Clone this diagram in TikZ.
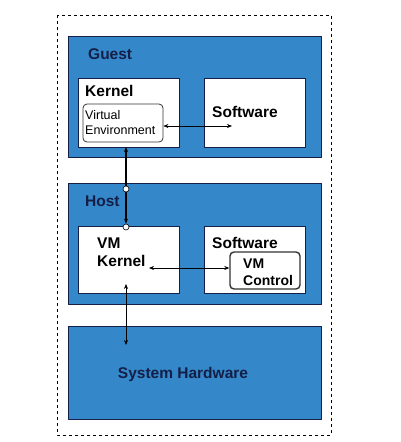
\documentclass[tikz,border=0pt]{standalone}
\usepackage{fontspec}
\setmainfont{Liberation Sans}
\usetikzlibrary{arrows.meta}
\definecolor{layerblue}{RGB}{52,136,202}
\definecolor{navy}{RGB}{20,30,70}
\begin{document}
\begin{tikzpicture}[x=1pt, y=-1pt, line join=round, >={Stealth[length=5pt,width=4pt]},
	layer/.style={draw=navy, fill=layerblue, line width=0.8pt, minimum width=253pt},
	whitebox/.style={draw=navy, fill=white, line width=0.6pt, minimum width=101pt},
	inner/.style={draw=black!80, fill=white, line width=0.8pt, rounded corners=4pt},
	title/.style={font=\fontsize{15.5}{17}\selectfont\bfseries, text=navy, inner sep=0pt},
	label/.style={font=\fontsize{15.5}{18}\selectfont\bfseries, inner sep=0pt, align=left},
	joint/.style={circle, draw=black, fill=white, line width=0.6pt, inner sep=0pt, minimum size=6pt}]
	\useasboundingbox (0,0) rectangle (400,442);
	\draw[dashed, line width=0.6pt] (57,15) rectangle (331,435);
	% guest layer
	\node[layer, minimum height=121pt] (guest) at (194.5,96.5) {};
	\node[title, anchor=west] (guestlbl) at (88,54) {Guest};
	\node[whitebox, minimum height=69pt] (gkernel) at (128.5,112.5) {};
	\node[whitebox, minimum height=69pt] (gsoft) at (254.5,112.5) {};
	\node[label, anchor=west] (gkernellbl) at (85,91) {Kernel};
	\node[label, anchor=west] (gsoftlbl) at (212,112) {Software};
	\node[inner, minimum width=80pt, minimum height=38pt] (venv) at (123,123) {};
	\node[font=\fontsize{12.5}{15}\selectfont, align=left, inner sep=0pt, anchor=west] (venvlbl) at (85,123) {Virtual\\Environment};
	% host layer
	\node[layer, minimum height=121pt] (host) at (194.5,243.5) {};
	\node[title, anchor=west] (hostlbl) at (85,201) {Host};
	\node[whitebox, minimum height=67pt] (vmkernel) at (128.5,259.5) {};
	\node[whitebox, minimum height=67pt] (hsoft) at (254.5,259.5) {};
	\node[label, anchor=west] (vmkernellbl) at (97,252.5) {VM\\Kernel};
	\node[label, anchor=west] (hsoftlbl) at (212,243) {Software};
	\node[inner, line width=1.4pt, minimum width=70pt, minimum height=37pt] (vmctrl) at (265,270.5) {};
	\node[font=\fontsize{14}{17}\selectfont\bfseries, align=left, inner sep=0pt, anchor=west] (vmctrllbl) at (243,272.5) {VM\\Control};
	% hardware layer
	\node[layer, minimum height=93pt] (hw) at (194.5,372.5) {};
	\node[title] (hwlbl) at (183,374) {System Hardware};
	% connectors
	\coordinate (gsofttip) at (232,126);
	\coordinate (gkernelbot) at (126,147);
	\coordinate (vmkerneltip) at (149,268);
	\coordinate (vmkernelbot) at (126,284);
	\coordinate (hwtop) at (126,345);
	\node[joint] (hostjoint) at (126,189) {};
	\node[joint] (kerneljoint) at (126,227) {};
	\draw[<->, line width=0.6pt] (venv.east |- gsofttip) -- (gsofttip);
	\draw[->, line width=1.4pt] (hostjoint) -- (gkernelbot);
	\draw[->, line width=1.4pt] (hostjoint) -- (kerneljoint);
	\draw[<->, line width=0.6pt] (vmkerneltip) -- (vmctrl.west |- vmkerneltip);
	\draw[<->, line width=0.6pt] (vmkernelbot) -- (hwtop);
\end{tikzpicture}
\end{document}
